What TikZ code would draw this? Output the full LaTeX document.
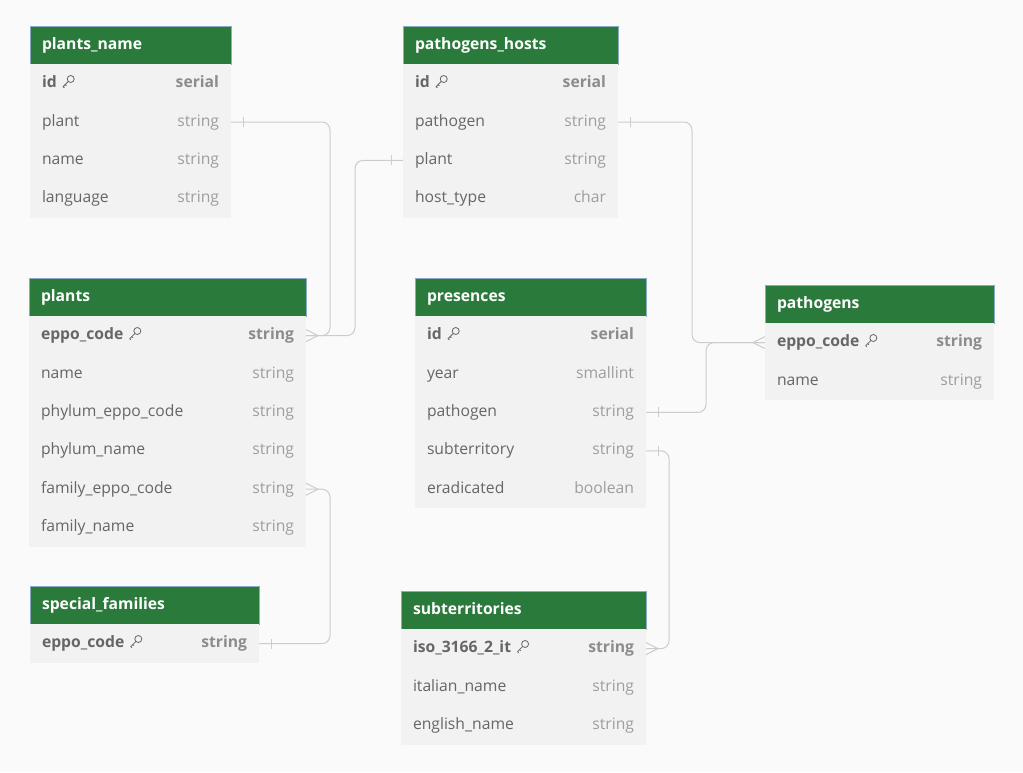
\documentclass[tikz,border=0pt]{standalone}
\usepackage{fontspec}
\setmainfont{Open Sans}
\usetikzlibrary{positioning,calc}
\definecolor{erdGreen}{RGB}{42,122,59}
\definecolor{erdEdge}{RGB}{140,170,196}
\definecolor{rowGray}{RGB}{242,242,242}
\definecolor{nameGray}{RGB}{102,102,102}
\definecolor{typeGray}{RGB}{158,158,158}
\definecolor{keyType}{RGB}{140,140,140}
\definecolor{linkGray}{RGB}{204,204,204}
\definecolor{pageGray}{RGB}{250,250,250}

% field helpers
\newcommand{\keyicon}{\tikz[baseline={(0pt,-6pt)},line width=0.8pt,line cap=round]{%
  \draw[nameGray] (2.6pt,2.6pt) circle (3.5pt);
  \draw[nameGray] (0.1pt,0.1pt) -- (-5pt,-5pt) -- (-3.8pt,-6.2pt);
  \draw[nameGray] (-3pt,-3pt) -- (-1.9pt,-4.1pt);}}
\newcommand{\fld}[2]{#1\hfill\textcolor{typeGray}{#2}}
\newcommand{\keyfld}[2]{\textbf{#1}\hspace{6pt}\keyicon\hfill\textcolor{keyType}{\textbf{#2}}}

\tikzset{
  tblhead/.style={anchor=north west,fill=erdGreen,draw=erdEdge,line width=0.4pt,text=white,
    font=\bfseries\fontsize{15.7}{17}\selectfont,text width=#1,align=left,
    inner xsep=12pt,inner ysep=0pt,minimum height=38.4pt,outer sep=0pt,
    text height=11pt,text depth=3pt},
  tblrow/.style={fill=rowGray,text=nameGray,font=\fontsize{15.7}{17}\selectfont,
    text width=#1,align=left,inner xsep=12pt,inner ysep=0pt,minimum height=38.4pt,
    outer sep=0pt,text height=11pt,text depth=3pt},
  link/.style={draw=linkGray,line width=1pt},
  conn/.style={link,rounded corners=8pt},
  onebar/.pic={\draw[link] (0pt,-5pt) -- (0pt,5pt);},
  crowfoot/.pic={\draw[link] (0pt,-6pt) -- (12pt,0pt) -- (0pt,6pt);}
}

\begin{document}
\begin{tikzpicture}[x=1pt,y=-1pt]
  \fill[pageGray] (0,0) rectangle (1023,772);
  \useasboundingbox (0,0) rectangle (1023,772);

  % plants_name
  \node[tblhead=177pt] (pn) at (30,26) {plants\_name};
  \node[tblrow=177pt,below=0pt of pn] (pn-id) {\keyfld{id}{serial}};
  \node[tblrow=177pt,below=0pt of pn-id] (pn-plant) {\fld{plant}{string}};
  \node[tblrow=177pt,below=0pt of pn-plant] (pn-name) {\fld{name}{string}};
  \node[tblrow=177pt,below=0pt of pn-name] (pn-lang) {\fld{language}{string}};

  % pathogens_hosts
  \node[tblhead=191pt] (ph) at (403,26) {pathogens\_hosts};
  \node[tblrow=191pt,below=0pt of ph] (ph-id) {\keyfld{id}{serial}};
  \node[tblrow=191pt,below=0pt of ph-id] (ph-pathogen) {\fld{pathogen}{string}};
  \node[tblrow=191pt,below=0pt of ph-pathogen] (ph-plant) {\fld{plant}{string}};
  \node[tblrow=191pt,below=0pt of ph-plant] (ph-type) {\fld{host\_type}{char}};

  % plants
  \node[tblhead=253pt] (pl) at (29,278) {plants};
  \node[tblrow=253pt,below=0pt of pl] (pl-eppo) {\keyfld{eppo\_code}{string}};
  \node[tblrow=253pt,below=0pt of pl-eppo] (pl-name) {\fld{name}{string}};
  \node[tblrow=253pt,below=0pt of pl-name] (pl-phcode) {\fld{phylum\_eppo\_code}{string}};
  \node[tblrow=253pt,below=0pt of pl-phcode] (pl-phname) {\fld{phylum\_name}{string}};
  \node[tblrow=253pt,below=0pt of pl-phname] (pl-family) {\fld{family\_eppo\_code}{string}};
  \node[tblrow=253pt,below=0pt of pl-family] (pl-faname) {\fld{family\_name}{string}};

  % presences
  \node[tblhead=207pt] (pr) at (415,278) {presences};
  \node[tblrow=207pt,below=0pt of pr] (pr-id) {\keyfld{id}{serial}};
  \node[tblrow=207pt,below=0pt of pr-id] (pr-year) {\fld{year}{smallint}};
  \node[tblrow=207pt,below=0pt of pr-year] (pr-pathogen) {\fld{pathogen}{string}};
  \node[tblrow=207pt,below=0pt of pr-pathogen] (pr-subterr) {\fld{subterritory}{string}};
  \node[tblrow=207pt,below=0pt of pr-subterr] (pr-erad) {\fld{eradicated}{boolean}};

  % pathogens
  \node[tblhead=205pt] (pg) at (765,285) {pathogens};
  \node[tblrow=205pt,below=0pt of pg] (pg-eppo) {\keyfld{eppo\_code}{string}};
  \node[tblrow=205pt,below=0pt of pg-eppo] (pg-name) {\fld{name}{string}};

  % special_families
  \node[tblhead=205pt] (sf) at (30,586) {special\_families};
  \node[tblrow=205pt,below=0pt of sf] (sf-eppo) {\keyfld{eppo\_code}{string}};

  % subterritories
  \node[tblhead=221pt] (st) at (401,591) {subterritories};
  \node[tblrow=221pt,below=0pt of st] (st-iso) {\keyfld{iso\_3166\_2\_it}{string}};
  \node[tblrow=221pt,below=0pt of st-iso] (st-ita) {\fld{italian\_name}{string}};
  \node[tblrow=221pt,below=0pt of st-ita] (st-eng) {\fld{english\_name}{string}};

  % relations
  \draw[conn] (pn-plant.east) -- ++(99,0) |- (pl-eppo.east);
  \draw[conn] (ph-plant.west) -- ++(-48,0) |- (pl-eppo.east);
  \draw[conn] (ph-pathogen.east) -- ++(74,0) |- (pg-eppo.west);
  \draw[conn] (pr-pathogen.east) -- ++(60,0) |- (pg-eppo.west);
  \draw[conn] (pr-subterr.east) -- ++(23,0) |- (st-iso.east);
  \draw[conn] (pl-family.east) -- ++(24,0) |- (sf-eppo.east);

  % end marks
  \pic at ($(pn-plant.east)+(12,0)$) {onebar};
  \pic at ($(ph-plant.west)+(-12,0)$) {onebar};
  \pic at ($(ph-pathogen.east)+(12,0)$) {onebar};
  \pic at ($(pr-pathogen.east)+(12,0)$) {onebar};
  \pic at ($(pr-subterr.east)+(12,0)$) {onebar};
  \pic at ($(sf-eppo.east)+(12,0)$) {onebar};
  \pic at (pl-eppo.east) {crowfoot};
  \pic at (pl-family.east) {crowfoot};
  \pic at (st-iso.east) {crowfoot};
  \pic[xscale=-1] at (pg-eppo.west) {crowfoot};
\end{tikzpicture}
\end{document}
